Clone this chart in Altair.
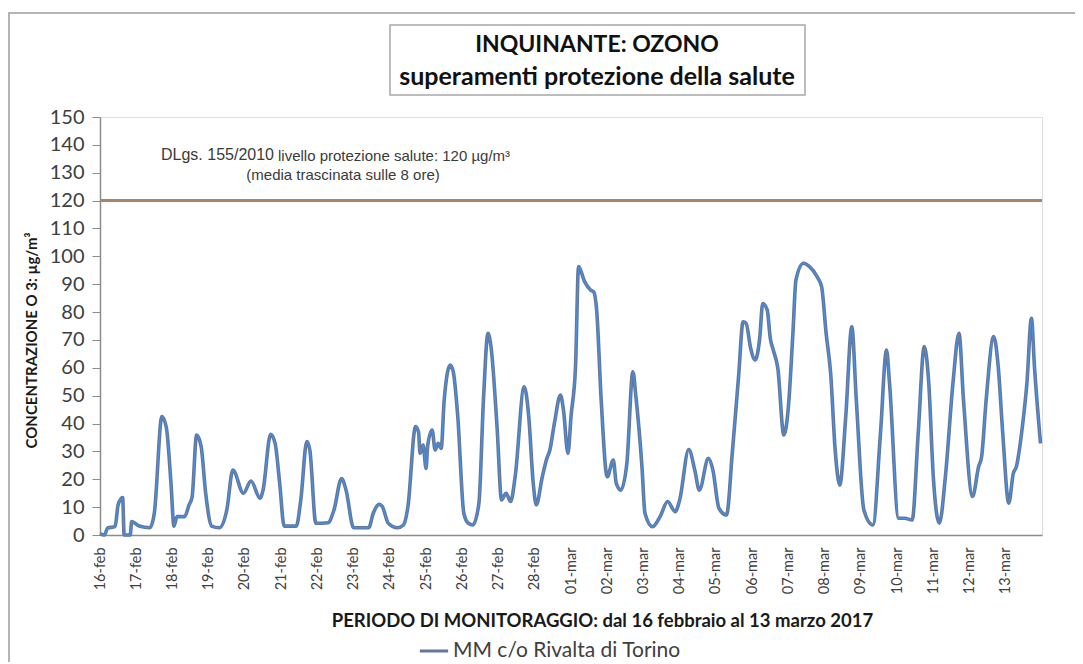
import altair as alt
import pandas as pd

# ---- data (hours since 16-feb 00:00, µg/m3) ----
hours = [0, 3, 5, 10, 12, 15, 16, 20, 21, 26, 33, 36, 41, 44, 47, 49, 51, 56, 59, 61,
         64, 67, 70, 74, 79, 84, 88, 95, 100, 106, 108, 113, 116, 119, 122, 130, 133, 137, 139, 143,
         151, 155, 160, 163, 168, 178, 181, 185, 187, 191, 197, 201, 204, 209, 211, 212, 214, 216, 217, 220,
         222, 224, 226, 228, 232, 234, 237, 241, 244, 247, 251, 254, 257, 259, 263, 266, 269, 272, 275, 281,
         284, 287, 289, 293, 296, 298, 301, 305, 307, 310, 312, 315, 317, 321, 325, 327, 329, 332, 336, 340,
         342, 345, 349, 353, 355, 359, 361, 366, 371, 376, 381, 384, 390, 394, 397, 403, 406, 410, 415, 419,
         423, 426, 428, 431, 434, 437, 439, 442, 444, 446, 449, 453, 456, 459, 461, 466, 470, 475, 478, 481,
         484, 487, 490, 494, 498, 501, 506, 512, 517, 521, 523, 529, 533, 538, 542, 546, 549, 552, 556, 560,
         565, 569, 572, 578, 582, 584, 587, 592, 595, 598, 602, 605, 607, 611, 614, 617, 619, 623]
values = [0.5, 0, 2.5, 3, 10.8, 13.4, 0, 0, 4.8, 3.2, 2.6, 7.9, 42.5, 38.4, 18.7, 3.2, 6.6, 6.6, 10.8, 13.6,
          35.9, 31.7, 15, 3.2, 2.6, 9, 23.3, 15, 19.4, 13.2, 16.1, 36.1, 32.9, 18.7, 3.2, 3.2, 12.6, 33.5, 30.5, 4.2,
          4.4, 9, 20.3, 16.1, 2.6, 2.6, 7.8, 11, 10.2, 4.2, 2.6, 3.6, 10.2, 38.9, 37, 29.3, 32.3, 23.9, 31.7, 37.7,
          30.5, 32.9, 31.1, 48.4, 61, 58.6, 42.5, 7.8, 4.2, 3.6, 11.4, 48.4, 72.4, 67.6, 38.9, 12.6, 15, 12, 20.9, 53.2,
          42.5, 18.5, 10.8, 20.9, 27.5, 30.5, 40.1, 50.2, 44.9, 29.3, 42.5, 60.4, 96.3, 90.9, 87.9, 87.3, 80.7, 48.4, 20.9, 26.9,
          18.5, 16.1, 25.7, 58.6, 49.6, 24.5, 7.8, 3, 6.6, 12, 8.4, 12.6, 30.7, 23.3, 16.1, 27.5, 23.3, 9.6, 7.2, 30.5,
          56.8, 76.5, 76, 67, 62.8, 70.6, 83.1, 80.7, 70.6, 66.4, 59.8, 35.9, 46, 72.4, 91.5, 97.5, 96.3, 92.7, 89.1, 72.4,
          58, 30.5, 17.9, 42.5, 74.7, 48.4, 9, 3.6, 36.5, 66.4, 54.4, 6, 6, 5.4, 36.5, 67.6, 54.4, 20.9, 4.2, 20.9,
          54.4, 72.4, 48.4, 13.8, 24.5, 28.1, 48.4, 71.2, 60.4, 36.5, 11.4, 22.1, 24.5, 38.9, 54.4, 77.8, 60.4, 32.9]

day_labels = ["16-feb", "17-feb", "18-feb", "19-feb", "20-feb", "21-feb", "22-feb", "23-feb",
              "24-feb", "25-feb", "26-feb", "27-feb", "28-feb", "01-mar", "02-mar", "03-mar",
              "04-mar", "05-mar", "06-mar", "07-mar", "08-mar", "09-mar", "10-mar", "11-mar",
              "12-mar", "13-mar"]
y_ticks = list(range(0, 151, 10))
series_name = "MM c/o Rivalta di Torino"
limit_value = 120

title_line1 = "INQUINANTE: OZONO"
title_line2 = "superamenti protezione della salute"
note_a = "DLgs. 155/2010"
note_b = "livello protezione salute: 120 µg/m³"
note_c = "(media trascinata sulle 8 ore)"
x_title = "PERIODO DI MONITORAGGIO: dal 16 febbraio al 13 marzo 2017"
y_title = "CONCENTRAZIONE O 3: µg/m³"

df = pd.DataFrame({"ora": hours, "valore": values, "serie": series_name})
one = pd.DataFrame({"k": [0]})

W, H = 942, 418
label_expr = "[" + ",".join(f"'{d}'" for d in day_labels) + "][round(datum.value/24)]"

x_scale = alt.Scale(domain=[0, 24 * len(day_labels)], nice=False, zero=False)
y_scale = alt.Scale(domain=[0, 150], nice=False)

x_axis = alt.Axis(values=[24 * i for i in range(len(day_labels))], labelExpr=label_expr,
                  labelAngle=270, labelAlign="right", labelBaseline="middle", labelPadding=12,
                  ticks=False, grid=False, labelFlush=False, labelOverlap=False,
                  labelFont="Lato", labelFontSize=14.5, labelColor="#404040",
                  domainColor="#8c8c8c", domainWidth=1.5,
                  title=x_title, titleX=502, titleY=85, titleFont="Lato", titleFontSize=18.5,
                  titleFontWeight="bold", titleColor="#1a1a1a", titleAlign="center",
                  titleBaseline="middle")
y_axis = alt.Axis(values=y_ticks, grid=False, tickSize=8, tickColor="#8c8c8c",
                  domainColor="#8c8c8c", domainWidth=1.5, labelFont="Lato", labelFontSize=20,
                  labelColor="#404040", labelPadding=8, labelOverlap=False, labelFlush=False,
                  title=y_title, titleFont="Lato", titleFontSize=15, titleFontWeight="bold",
                  titleColor="#1a1a1a", titleAngle=270, titleX=-69, titleY=223,
                  titleAlign="center", titleBaseline="middle")

outer = alt.Chart(one).mark_rect(fillOpacity=0, stroke="#b4b4b4", strokeWidth=2).encode(
    x=alt.value(-91), x2=alt.value(1100), y=alt.value(-104), y2=alt.value(700))

tbox = alt.Chart(one).mark_rect(fill="white", stroke="#a8a8a8", strokeWidth=1.5).encode(
    x=alt.value(290), x2=alt.value(705), y=alt.value(-92), y2=alt.value(-22))
t1 = alt.Chart(one).mark_text(text=title_line1, font="Lato", fontSize=23, fontWeight="bold",
                              color="#111111", align="center", baseline="middle").encode(
    x=alt.value(497), y=alt.value(-72))
t2 = alt.Chart(one).mark_text(text=title_line2, font="Lato", fontSize=25, fontWeight="bold",
                              color="#111111", align="center", baseline="middle").encode(
    x=alt.value(497), y=alt.value(-40))

na = alt.Chart(one).mark_text(text=note_a, font="Liberation Sans", fontSize=16, color="#3a3a3a",
                              align="right", baseline="middle").encode(x=alt.value(174), y=alt.value(38))
nb = alt.Chart(one).mark_text(text=note_b, font="Liberation Sans", fontSize=15, color="#3a3a3a",
                              align="left", baseline="middle").encode(x=alt.value(178), y=alt.value(39))
nc = alt.Chart(one).mark_text(text=note_c, font="Liberation Sans", fontSize=15, color="#3a3a3a",
                              align="center", baseline="middle").encode(x=alt.value(243), y=alt.value(58))

rule = alt.Chart(one).mark_rule(color="#a8846a", strokeWidth=3).encode(
    y=alt.Y(datum=limit_value, type="quantitative", scale=y_scale, axis=y_axis))

line_outer = alt.Chart(df).mark_line(strokeWidth=3.6, interpolate="monotone").encode(
    x=alt.X("ora:Q", scale=x_scale, axis=x_axis),
    y=alt.Y("valore:Q", scale=y_scale, axis=y_axis),
    color=alt.Color("serie:N", scale=alt.Scale(range=["#62779a"]),
                    legend=alt.Legend(orient="none", legendX=318, legendY=518, title=None,
                                      symbolType="stroke", symbolStrokeWidth=3, symbolSize=800,
                                      labelFont="Lato", labelFontSize=21, labelColor="#404040",
                                      labelLimit=500, direction="horizontal", labelOffset=3)))
line_inner = alt.Chart(df).mark_line(strokeWidth=1.3, interpolate="monotone", color="#4a8fe0").encode(
    x=alt.X("ora:Q", scale=x_scale, axis=x_axis), y=alt.Y("valore:Q", scale=y_scale, axis=y_axis))

chart = alt.layer(outer, tbox, t1, t2, na, nb, nc, rule, line_outer, line_inner).properties(
    width=W, height=H,
    autosize=alt.AutoSizeParams(type="none"),
    padding={"left": 92, "top": 109, "right": 33, "bottom": 127},
).configure_view(stroke="#a0a0a0", strokeWidth=2).configure(background="white")

chart.save("out.html", embed_options={"renderer": "svg", "actions": False})
